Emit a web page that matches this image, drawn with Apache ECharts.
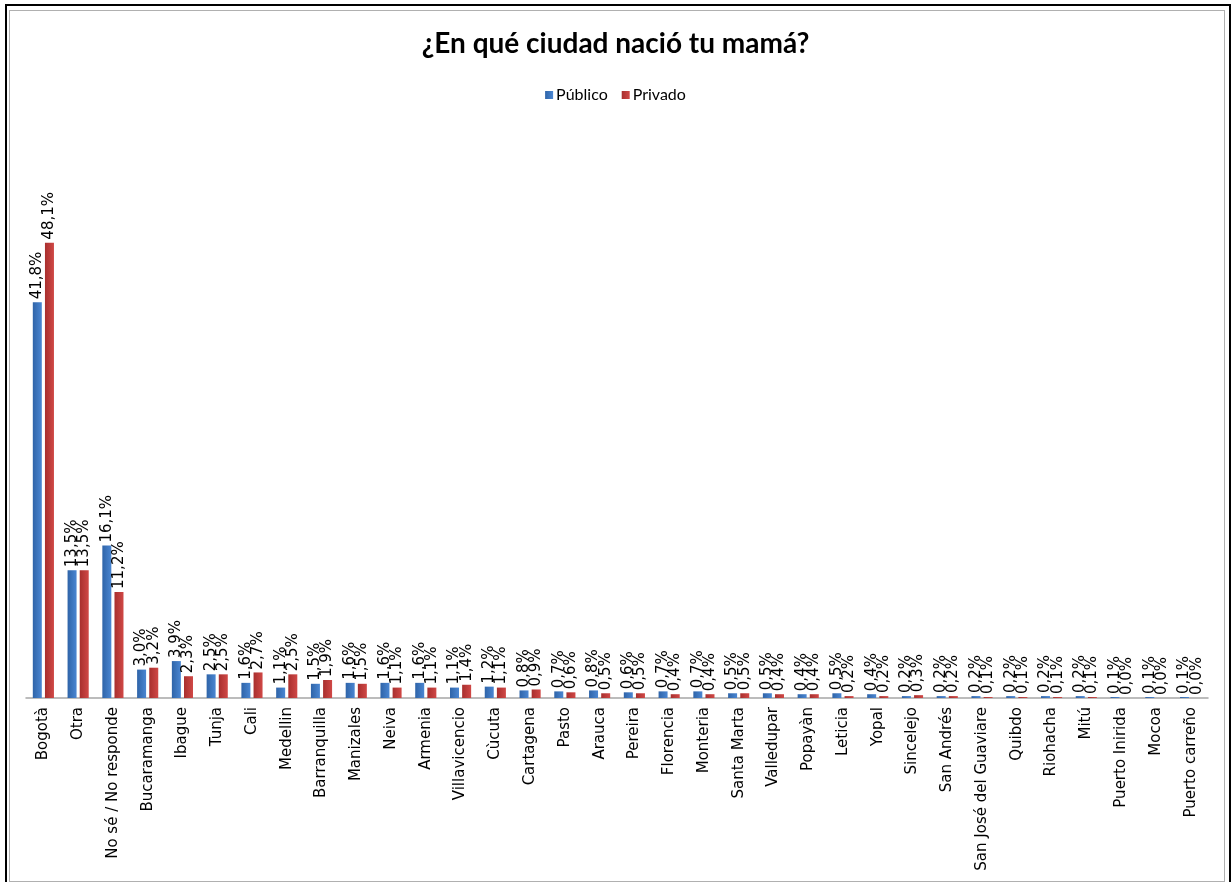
<!DOCTYPE html>
<html>
<head>
<meta charset="utf-8">
<title>¿En qué ciudad nació tu mamá?</title>
<script src="https://cdn.jsdelivr.net/npm/echarts@6/dist/echarts.min.js"></script>
<style>
  html, body { margin: 0; padding: 0; background: #fff; }
  #frame {
    position: absolute; left: 5px; top: 4px; width: 1222px; height: 900px;
    border-left: 2px solid #000; border-top: 2px solid #000; border-right: 3px solid #000;
  }
  #inner {
    position: absolute; left: 9px; top: 10px; width: 1214px; height: 870px;
    border: 1px solid #b0b0b0;
  }
  #chart { position: absolute; left: 0; top: 0; width: 1231px; height: 882px; }
</style>
</head>
<body>
<div id="frame"></div>
<div id="inner"></div>
<div id="chart"></div>
<script>
const cities = [
  'Bogotà', 'Otra', 'No sé / No responde', 'Bucaramanga', 'Ibague', 'Tunja', 'Cali',
  'Medellin', 'Barranquilla', 'Manizales', 'Neiva', 'Armenia', 'Villavicencio', 'Cùcuta',
  'Cartagena', 'Pasto', 'Arauca', 'Pereira', 'Florencia', 'Monteria', 'Santa Marta',
  'Valledupar', 'Popayàn', 'Leticia', 'Yopal', 'Sincelejo', 'San Andrés',
  'San José del Guaviare', 'Quibdo', 'Riohacha', 'Mitú', 'Puerto Inirida', 'Mocoa',
  'Puerto carreño',
]

const publico = [
  41.8, 13.5, 16.1, 3.0, 3.9, 2.5, 1.6, 1.1, 1.5, 1.6, 1.6, 1.6, 1.1, 1.2, 0.8, 0.7, 0.8,
  0.6, 0.7, 0.7, 0.5, 0.5, 0.4, 0.5, 0.4, 0.2, 0.2, 0.2, 0.2, 0.2, 0.2, 0.1, 0.1, 0.1,
]

const privado = [
  48.1, 13.5, 11.2, 3.2, 2.3, 2.5, 2.7, 2.5, 1.9, 1.5, 1.1, 1.1, 1.4, 1.1, 0.9, 0.6, 0.5,
  0.5, 0.4, 0.4, 0.5, 0.4, 0.4, 0.2, 0.2, 0.3, 0.2, 0.1, 0.1, 0.1, 0.1, 0.0, 0.0, 0.0,
]

const fmt = (p) => p.value.toFixed(1).replace('.', ',') + '%'

const barLabel = {
  show: true,
  position: 'top',
  rotate: 90,
  align: 'left',
  verticalAlign: 'middle',
  distance: 3,
  formatter: fmt,
  fontFamily: 'DejaVu Sans',
  fontSize: 15,
  color: '#000',
}

const gradient = (a, b) => new echarts.graphic.LinearGradient(0, 0, 1, 0, [
  { offset: 0, color: a },
  { offset: 1, color: b },
])

const chart = echarts.init(document.getElementById('chart'))

chart.setOption({
  animation: false,
  title: {
    text: '¿En qué ciudad nació tu mamá?',
    left: 'center',
    top: 25,
    textStyle: { fontFamily: 'Lato', fontWeight: 'bold', fontSize: 28, color: '#000' },
  },
  legend: {
    top: 82,
    left: 'center',
    itemWidth: 8,
    itemHeight: 8,
    itemGap: 14,
    icon: 'rect',
    textStyle: { fontFamily: 'Lato', fontSize: 16, color: '#000', padding: [0, 0, 0, -2] },
    data: ['Público', 'Privado'],
  },
  grid: { left: 26, right: 23, top: 130, bottom: 184, containLabel: false },
  xAxis: {
    type: 'category',
    data: cities,
    axisLine: { lineStyle: { color: '#a6a6a6', width: 1.5 } },
    axisTick: { show: false },
    axisLabel: {
      rotate: 90,
      interval: 0,
      margin: 9,
      fontFamily: 'DejaVu Sans',
      fontSize: 15,
      color: '#000',
    },
  },
  yAxis: {
    type: 'value',
    min: 0,
    max: 60,
    show: false,
    splitLine: { show: false },
  },
  series: [
    {
      name: 'Público',
      type: 'bar',
      data: publico,
      barWidth: 9,
      barGap: '35%',
      itemStyle: { color: gradient('#2f64a8', '#4a86d2') },
      label: barLabel,
    },
    {
      name: 'Privado',
      type: 'bar',
      data: privado,
      barWidth: 9,
      itemStyle: { color: gradient('#a82f2e', '#d04846') },
      label: barLabel,
    },
  ],
})

window.addEventListener('resize', () => chart.resize())
</script>
</body>
</html>
